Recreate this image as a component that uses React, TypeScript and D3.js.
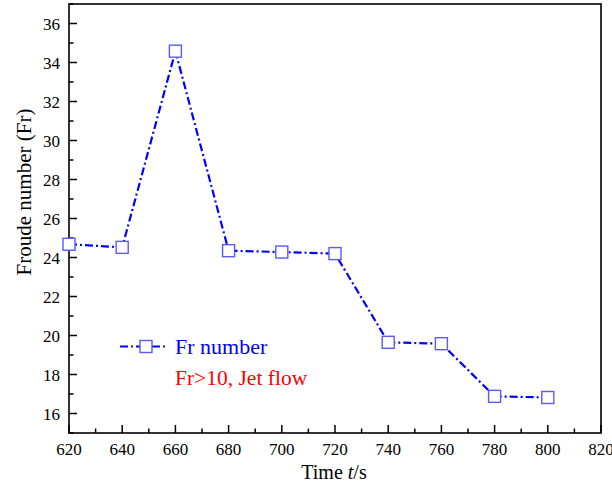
import React from "react";
import * as d3 from "d3";

const times = [620, 640, 660, 680, 700, 720, 740, 760, 780, 800];
const frValues = [24.68, 24.52, 34.58, 24.35, 24.28, 24.2, 19.65, 19.58, 16.88, 16.82];
const xTicks = [620, 640, 660, 680, 700, 720, 740, 760, 780, 800, 820];
const yTicks = [16, 18, 20, 22, 24, 26, 28, 30, 32, 34, 36];
const seriesName = "Fr number";
const noteText = "Fr>10, Jet flow";

const W = 612, H = 486;
const L = 69, R = 601, T = 4, B = 433;
const FONT = "Liberation Serif, Times New Roman, DejaVu Serif, serif";

export default function App() {
  const x = d3.scaleLinear().domain([620, 820]).range([L, R]);
  const y = d3.scaleLinear().domain([15, 37]).range([B, T]);
  const line = d3.line<number>().x((_, i) => x(times[i])).y((v) => y(v));
  const xMinor = d3.range(630, 820, 20);
  const yMinor = d3.range(15, 38, 2);
  const dash = "8,3,2,3";
  const sq = 12;
  const ts = { fontFamily: FONT } as React.CSSProperties;
  return (
    <svg width={W} height={H} style={{ position: "absolute", left: 0, top: 0, background: "#fff", fontFamily: FONT }}>
      <rect x={L} y={T} width={R - L} height={B - T} fill="none" stroke="#000" strokeWidth={1.6} />
      {xTicks.map((t) => (
        <g key={"x" + t}>
          <line x1={x(t)} x2={x(t)} y1={B} y2={B - 8} stroke="#000" strokeWidth={1.5} />
          <text style={ts} x={x(t)} y={455} fontSize={17} textAnchor="middle" fill="#000">{t}</text>
        </g>
      ))}
      {xMinor.map((t) => (
        <line key={"xm" + t} x1={x(t)} x2={x(t)} y1={B} y2={B - 4.5} stroke="#000" strokeWidth={1.5} />
      ))}
      {yTicks.map((t) => (
        <g key={"y" + t}>
          <line x1={L} x2={L + 8} y1={y(t)} y2={y(t)} stroke="#000" strokeWidth={1.5} />
          <text style={ts} x={L - 9} y={y(t) + 6} fontSize={17} textAnchor="end" fill="#000">{t}</text>
        </g>
      ))}
      {yMinor.map((t) => (
        <line key={"ym" + t} x1={L} x2={L + 4.5} y1={y(t)} y2={y(t)} stroke="#000" strokeWidth={1.5} />
      ))}
      <text style={ts} x={334} y={479} fontSize={20} textAnchor="middle" fill="#000">
        Time <tspan fontStyle="italic">t</tspan>/s
      </text>
      <text style={ts} transform={`translate(31, 192) rotate(-90)`} fontSize={21} textAnchor="middle" fill="#000">
        Froude number (Fr)
      </text>
      <path d={line(frValues) || ""} fill="none" stroke="#0000ff" strokeWidth={2.2} strokeDasharray={dash} />
      {frValues.map((v, i) => (
        <rect key={"m" + i} x={x(times[i]) - sq / 2} y={y(v) - sq / 2} width={sq} height={sq} fill="#fff" stroke="#5a5aff" strokeWidth={1.4} />
      ))}
      <line x1={120} x2={166} y1={346.5} y2={346.5} stroke="#0000ff" strokeWidth={2.2} strokeDasharray={dash} />
      <rect x={146 - sq / 2} y={346.5 - sq / 2} width={sq} height={sq} fill="#fff" stroke="#5a5aff" strokeWidth={1.4} />
      <text style={ts} x={175} y={354} fontSize={22} fill="#0000ff">{seriesName}</text>
      <text style={ts} x={175} y={385} fontSize={21.5} fill="#ff0000">{noteText}</text>
    </svg>
  );
}
